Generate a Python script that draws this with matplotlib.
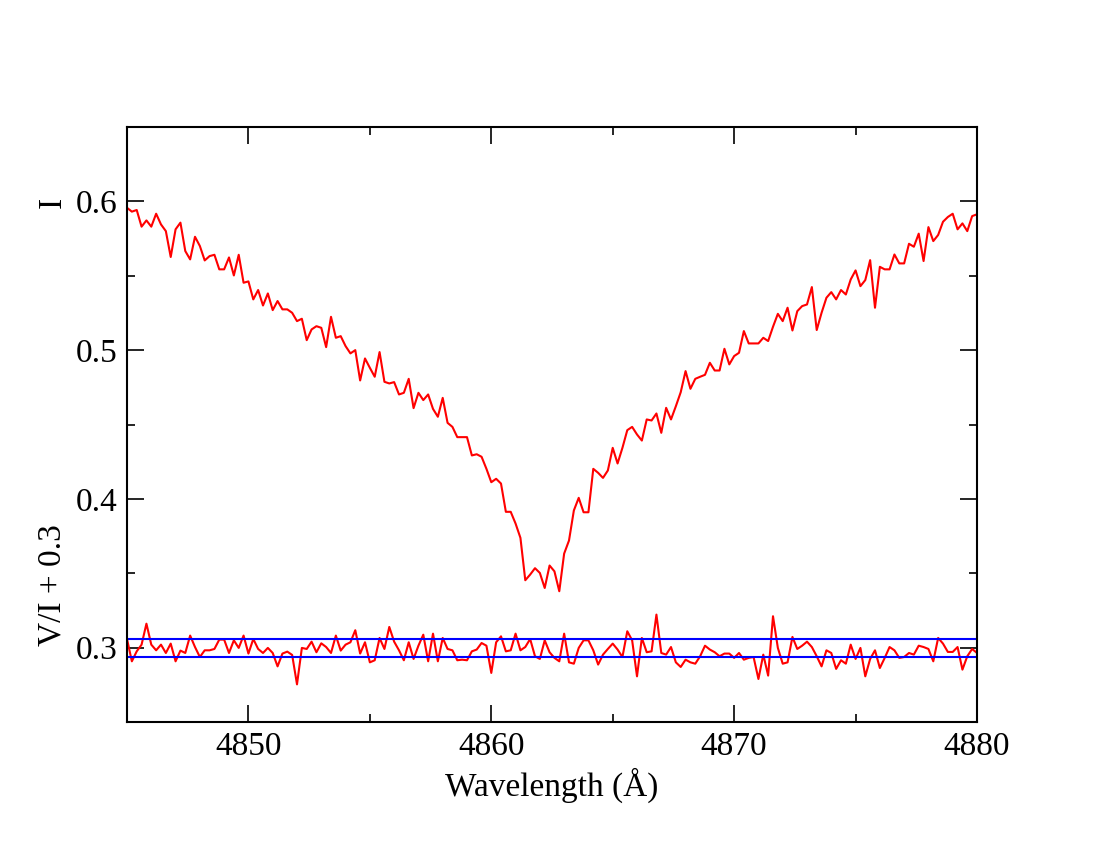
import numpy as np
import matplotlib
matplotlib.use('Agg')
import matplotlib.pyplot as plt
from matplotlib.ticker import MultipleLocator

# Wavelength grid of the spectrum (Angstrom)
wave_start = 4845.0
wave_step = 0.2

# Stokes I profile around H-beta
stokes_i = [
    0.5957, 0.5931, 0.5942, 0.5830, 0.5872, 0.5830, 0.5917, 0.5845, 0.5800, 0.5626,
    0.5812, 0.5857, 0.5666, 0.5610, 0.5762, 0.5700, 0.5603, 0.5632, 0.5641, 0.5543,
    0.5543, 0.5623, 0.5502, 0.5641, 0.5453, 0.5462, 0.5341, 0.5404, 0.5300, 0.5381,
    0.5269, 0.5330, 0.5274, 0.5274, 0.5251, 0.5195, 0.5211, 0.5067, 0.5139, 0.5161,
    0.5150, 0.5020, 0.5224, 0.5083, 0.5094, 0.5027, 0.4978, 0.5000, 0.4796, 0.4944,
    0.4881, 0.4821, 0.4987, 0.4787, 0.4776, 0.4785, 0.4702, 0.4713, 0.4807, 0.4610,
    0.4713,
    0.4664, 0.4702, 0.4605, 0.4552, 0.4679, 0.4511, 0.4484, 0.4415, 0.4415, 0.4415,
    0.4292, 0.4300, 0.4283, 0.4202, 0.4112, 0.4135, 0.4103, 0.3913, 0.3913, 0.3834,
    0.3738, 0.3453, 0.3491, 0.3534, 0.3502, 0.3401, 0.3552, 0.3513, 0.3379, 0.3632,
    0.3720, 0.3922, 0.4007, 0.3910, 0.3910, 0.4202, 0.4175, 0.4141, 0.4191, 0.4343,
    0.4238, 0.4343, 0.4462, 0.4484, 0.4433, 0.4392, 0.4534, 0.4527, 0.4574, 0.4444,
    0.4612, 0.4534, 0.4623, 0.4717, 0.4859, 0.4740, 0.4807, 0.4821,
    0.4834, 0.4915, 0.4863, 0.4863, 0.5009, 0.4904, 0.4960, 0.4982, 0.5128, 0.5045,
    0.5045, 0.5045, 0.5083, 0.5061, 0.5157, 0.5244, 0.5195, 0.5285, 0.5132, 0.5262,
    0.5296, 0.5307, 0.5424, 0.5135, 0.5251, 0.5352, 0.5390, 0.5341, 0.5404, 0.5374,
    0.5475, 0.5536, 0.5430, 0.5471, 0.5605, 0.5285, 0.5560, 0.5543, 0.5543, 0.5643,
    0.5583, 0.5583, 0.5715, 0.5695, 0.5783, 0.5599, 0.5827, 0.5733, 0.5774, 0.5863,
    0.5895, 0.5917, 0.5812, 0.5852, 0.5800, 0.5901, 0.5913,
]

# Stokes V/I shifted by +0.3
stokes_v = [
    0.3058, 0.2908, 0.2975, 0.3020, 0.3161, 0.3020, 0.2982, 0.3020, 0.2964, 0.3027,
    0.2908, 0.2980, 0.2964, 0.3081, 0.3004, 0.2937, 0.2982, 0.2982, 0.2991, 0.3054,
    0.3054, 0.2964, 0.3049, 0.2998, 0.3081, 0.2960, 0.3058, 0.2991, 0.2964, 0.2998,
    0.2964, 0.2874, 0.2960, 0.2973, 0.2951, 0.2753, 0.2998, 0.2991, 0.3040, 0.2969,
    0.3029, 0.3004, 0.2964, 0.3081, 0.2980,
    0.3020, 0.3036, 0.3117, 0.2960, 0.3036, 0.2901, 0.2915, 0.3065, 0.2991, 0.3139,
    0.3040, 0.2982, 0.2915, 0.3036, 0.2924, 0.3013, 0.3087, 0.2908, 0.3094, 0.2908,
    0.3065, 0.2991, 0.2982, 0.2915, 0.2919, 0.2915, 0.2975, 0.2987, 0.3031, 0.3013,
    0.2830, 0.3036, 0.3076, 0.2975, 0.2982, 0.3094, 0.2982, 0.3004, 0.3058, 0.2942,
    0.2924, 0.3049, 0.2969,
    0.2931, 0.2908, 0.3094, 0.2901, 0.2892, 0.2998, 0.3049, 0.3049, 0.2982, 0.2886,
    0.2953, 0.2991, 0.3027, 0.2987, 0.2937, 0.3110, 0.3049, 0.2807, 0.3065, 0.2969,
    0.2975, 0.3222, 0.2964, 0.2953, 0.3004, 0.2901, 0.2870, 0.2919, 0.2901, 0.2892,
    0.2942, 0.3013, 0.2987, 0.2969, 0.2942, 0.2960, 0.2960, 0.2931, 0.2964, 0.2919,
    0.2931, 0.2937, 0.2789,
    0.2953, 0.2812, 0.3211, 0.2998, 0.2892, 0.2901, 0.3072, 0.2991, 0.3013, 0.3040,
    0.3004, 0.2942, 0.2874, 0.2982, 0.2964, 0.2857, 0.2915, 0.2892, 0.3020, 0.2924,
    0.2998, 0.2807, 0.2924, 0.2982, 0.2863, 0.2931, 0.3004, 0.2982, 0.2931, 0.2937,
    0.2964, 0.2953, 0.3013, 0.3004, 0.2991, 0.2908, 0.3065, 0.3027, 0.2971, 0.2971,
    0.3004, 0.2852, 0.2942, 0.2991, 0.2964,
]

# noise level of V/I (plotted as +/- band around the 0.3 offset)
v_offset = 0.3
v_noise = 0.006

x_ticks = [4850, 4860, 4870, 4880]
y_ticks = [0.3, 0.4, 0.5, 0.6]


def main():
    plt.rcParams['font.family'] = ['Liberation Serif', 'DejaVu Serif']
    plt.rcParams['mathtext.fontset'] = 'stix'

    wave = wave_start + wave_step * np.arange(len(stokes_i))
    wave_v = wave_start + wave_step * np.arange(len(stokes_v))

    fig = plt.figure(figsize=(11, 8.5), dpi=100)
    ax = fig.add_axes([127 / 1100, 1 - 722 / 850, 850 / 1100, 595 / 850])

    ax.plot(wave, stokes_i, color='red', lw=1.5)
    ax.plot(wave_v, stokes_v, color='red', lw=1.5)
    ax.plot([wave_v[0], wave_v[-1]], [v_offset + v_noise] * 2, color='blue', lw=1.5)
    ax.plot([wave_v[0], wave_v[-1]], [v_offset - v_noise] * 2, color='blue', lw=1.5)

    ax.set_xlim(4845, 4880)
    ax.set_ylim(0.25, 0.65)
    ax.set_xticks(x_ticks)
    ax.set_yticks(y_ticks)
    ax.xaxis.set_minor_locator(MultipleLocator(5))
    ax.yaxis.set_minor_locator(MultipleLocator(0.05))
    ax.tick_params(which='both', direction='in', top=True, right=True,
                   width=1.2, labelsize=24, pad=7)
    ax.tick_params(which='major', length=12)
    ax.tick_params(which='minor', length=6)
    for sp in ax.spines.values():
        sp.set_linewidth(1.5)

    ax.set_xlabel('Wavelength (Å)', fontsize=24, labelpad=4)
    fig.text(52 / 1100, 1 - 202 / 850, 'I', rotation=90, fontsize=24,
             ha='center', va='center')
    fig.text(52 / 1100, 1 - 585 / 850, 'V/I + 0.3', rotation=90, fontsize=24,
             ha='center', va='center')

    fig.savefig('out.png', dpi=100)


if __name__ == '__main__':
    main()
